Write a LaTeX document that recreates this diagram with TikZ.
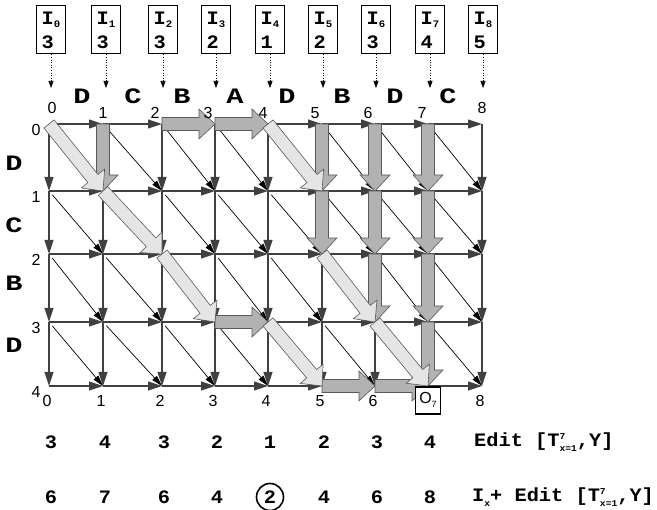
\documentclass[tikz,border=0pt]{standalone}
\usepackage{fontspec}
\setmainfont{Liberation Sans}
\newfontfamily\courb[FakeStretch=1.07]{Liberation Mono Bold}
\newfontfamily\courw[FakeStretch=1.3]{Liberation Mono Bold}
\usetikzlibrary{positioning, calc, arrows.meta}

% wide grey path arrow: [style]{from}{to}
\newcommand\fatarrow[3][darkpath]{%
  \coordinate (fa-neck) at ($(#3)!16pt!(#2)$);
  \filldraw[#1] ($(#2)!6.5pt!90:(#3)$) -- ($(fa-neck)!6.5pt!-90:(#2)$)
    -- ($(fa-neck)!15pt!-90:(#2)$) -- (#3) -- ($(fa-neck)!15pt!90:(#2)$)
    -- ($(fa-neck)!6.5pt!90:(#2)$) -- ($(#2)!6.5pt!-90:(#3)$) -- cycle;
}
\newcommand\supsub[2]{\rlap{\raisebox{0.75ex}{\fontsize{9}{9}\selectfont #1}}\raisebox{-0.45ex}{\fontsize{9}{9}\selectfont #2}}

\begin{document}
\begin{tikzpicture}[x=1pt, y=-1pt,
    >={Triangle[length=14pt, width=9pt]},
    gridline/.style={->, draw=black!75, line width=1.1pt},
    diagline/.style={->, draw=black, line width=0.7pt, shorten <=5pt, >={Triangle[length=11pt, width=6pt]}},
    darkpath/.style={fill=black!30, draw=black!65, line width=0.6pt},
    lightpath/.style={fill=black!10, draw=black!65, line width=0.6pt},
    inbox/.style={draw, line width=1pt, minimum width=29pt, minimum height=48pt, inner sep=3pt, align=left, font=\courb\fontsize{19}{24}\selectfont},
    feed/.style={->, dotted, line width=0.6pt, >={Triangle[length=7pt, width=5pt]}},
    numlbl/.style={inner sep=0pt, font=\fontsize{16}{16}\selectfont},
    seqlbl/.style={inner sep=0pt, font=\courw\fontsize{22}{22}\selectfont},
    vallbl/.style={inner sep=0pt, font=\courb\fontsize{19}{19}\selectfont},
    obox/.style={draw, fill=white, line width=1.6pt, minimum width=25pt, minimum height=27pt, inner sep=0pt, font=\fontsize{16}{16}\selectfont},
    pickcircle/.style={circle, draw, line width=1.6pt, minimum size=27pt, inner sep=0pt}
  ]
    \useasboundingbox (0,0) rectangle (657,510);

    % grid points
    \foreach \x [count=\j from 0] in {49,103,162,215,268,322,375,428,482}
      \foreach \y [count=\i from 0] in {124,191,254,322,386}
        \coordinate (n\i\j) at (\x,\y);

    % ==========================================
    \foreach \i in {0,...,4}
      \foreach \j in {1,...,8} {
        \pgfmathtruncatemacro\p{\j-1}
        \draw[gridline] (n\i\p) -- (n\i\j);
      }
    \foreach \i in {1,...,4}
      \foreach \j in {0,...,8} {
        \pgfmathtruncatemacro\p{\i-1}
        \draw[gridline] (n\p\j) -- (n\i\j);
      }
    \foreach \i in {1,...,4}
      \foreach \j in {1,...,8} {
        \pgfmathtruncatemacro\p{\i-1}
        \pgfmathtruncatemacro\q{\j-1}
        \draw[diagline] (n\p\q) -- (n\i\j);
      }

    % ==========================================
    \fatarrow{n01}{n11}
    \fatarrow{n02}{n03}
    \fatarrow{n03}{n04}
    \fatarrow{n05}{n15}
    \fatarrow{n15}{n25}
    \fatarrow{n06}{n16}
    \fatarrow{n16}{n26}
    \fatarrow{n26}{n36}
    \fatarrow{n07}{n17}
    \fatarrow{n17}{n27}
    \fatarrow{n27}{n37}
    \fatarrow{n37}{n47}
    \fatarrow{n33}{n34}
    \fatarrow{n45}{n46}
    \fatarrow{n46}{n47}
    \fatarrow[lightpath]{n00}{n11}
    \fatarrow[lightpath]{n11}{n22}
    \fatarrow[lightpath]{n22}{n33}
    \fatarrow[lightpath]{n34}{n45}
    \fatarrow[lightpath]{n04}{n15}
    \fatarrow[lightpath]{n25}{n36}
    \fatarrow[lightpath]{n36}{n47}

    % ==========================================
    \foreach \j/\dx/\dy in {0/3/-16, 1/0/-11, 2/-7/-11, 3/-7/-11, 4/-5/-11, 5/-7/-11, 6/-7/-11, 7/-6/-11, 8/0/-16}
      \node[numlbl] (top\j) at ($(n0\j)+(\dx,\dy)$) {\j};
    \foreach \i in {0,...,4}
      \node[numlbl] (left\i) at ($(n\i0)+(-13,6)$) {\i};
    \foreach \j in {0,...,6,8}
      \node[numlbl] (bot\j) at ($(n4\j)+(-2,15)$) {\j};
    \node[obox, below=0pt of n47] (out7) {O\raisebox{-0.5ex}{\fontsize{9}{9}\selectfont 7}};

    \foreach \c/\x [count=\k] in {D/82, C/133, B/182, A/235, D/287, B/342, D/395, C/448}
      \node[seqlbl] (ys\k) at (\x,96) {\c};
    \foreach \c/\y [count=\k] in {D/163, C/225, B/283, D/345}
      \node[seqlbl] (xs\k) at (14,\y) {\c};

    % ==========================================
    \foreach \x/\v [count=\k from 0] in {51/3, 106/3, 163/3, 216/2, 270/1, 323/2, 376/3, 430/4, 483/5} {
      \node[inbox] (in\k) at (\x,30) {I\raisebox{-0.3ex}{\fontsize{10}{10}\selectfont\k}\\\v};
      \coordinate (tip\k) at (\x,88);
      \draw[feed] (in\k.south) -- (tip\k);
    }

    % ==========================================
    \foreach \v [count=\k from 0] in {3,4,3,2,1,2,3,4}
      \node[vallbl] (ed\k) at ($(n4\k)+(2,56)$) {\v};
    \node[vallbl, anchor=west] (edname) at (474,442) {Edit [T\supsub{7}{x=1},Y]};
    \foreach \v [count=\k from 0] in {6,7,6,4,2,4,6,8}
      \node[vallbl] (ix\k) at ($(n4\k)+(2,111)$) {\v};
    \node[pickcircle] (pick) at (ix4) {};
    \node[vallbl, anchor=west] (ixname) at (472,497) {I\raisebox{-0.45ex}{\fontsize{9}{9}\selectfont x}+ Edit [T\supsub{7}{x=1},Y]};

  \end{tikzpicture}
\end{document}
